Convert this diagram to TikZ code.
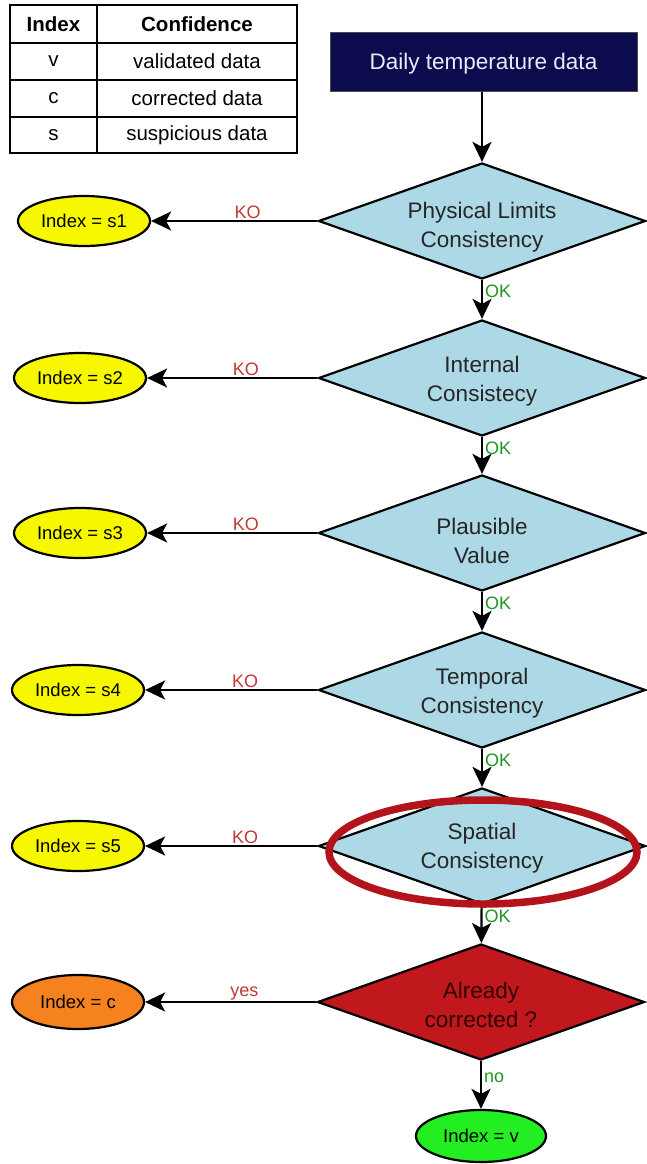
\documentclass[tikz,border=0pt]{standalone}
\usepackage{fontspec}
\setmainfont{Liberation Sans}
\usetikzlibrary{shapes.geometric,arrows.meta}
\definecolor{navy}{HTML}{0B0B4D}
\definecolor{dblue}{HTML}{ADD8E6}
\definecolor{ylw}{HTML}{F7F700}
\definecolor{org}{HTML}{F5821F}
\definecolor{grn}{HTML}{22EE22}
\definecolor{dred}{HTML}{C0181C}
\definecolor{kored}{HTML}{C03838}
\definecolor{okgrn}{HTML}{1E961E}
\definecolor{hlred}{HTML}{B3131A}
\tikzset{
  decision/.style={shape=diamond, draw=black, line width=2.2pt, fill=dblue, aspect=2.8,
    minimum width=327pt, minimum height=116pt, inner sep=0pt},
  dtext/.style={align=center, text=black!85, font=\fontsize{22.5}{29}\selectfont, inner sep=0pt},
  result/.style={shape=ellipse, draw=black, line width=2.2pt, minimum width=132pt,
    minimum height=50pt, inner sep=0pt, font=\fontsize{18.5}{22}\selectfont},
  flow/.style={draw=black, line width=2.2pt, -{Stealth[length=20pt,width=19pt,inset=5pt]}},
  kolab/.style={text=kored, font=\fontsize{18}{20}\selectfont, inner sep=1pt, above},
  oklab/.style={text=okgrn, font=\fontsize{18}{20}\selectfont, inner sep=2pt, right},
  cell/.style={font=\fontsize{20.5}{24}\selectfont, inner sep=0pt},
  hcell/.style={font=\bfseries\fontsize{20.5}{24}\selectfont, inner sep=0pt},
}
\begin{document}
\begin{tikzpicture}[x=1pt,y=-1pt]
\useasboundingbox (0,0) rectangle (647,1164);
% table
\draw[line width=2pt] (10,5) rectangle (297,153);
\draw[line width=1.6pt] (10,43) -- (297,43) (10,80) -- (297,80) (10,117) -- (297,117) (97,5) -- (97,153);
\node[hcell] (h1) at (53.5,24) {Index};
\node[hcell] (h2) at (197,24) {Confidence};
\node[cell] (r1a) at (53.5,61.5) {v};
\node[cell] (r1b) at (197,61.5) {validated data};
\node[cell] (r2a) at (53.5,98.5) {c};
\node[cell] (r2b) at (197,98.5) {corrected data};
\node[cell] (r3a) at (53.5,135) {s};
\node[cell] (r3b) at (197,135) {suspicious data};
% start
\node[draw=black!70, line width=1pt, fill=navy, minimum width=307pt,
  minimum height=58pt] (start) at (483.5,62) {};
\node[text=white!92!blue, font=\fontsize{22.5}{27}\selectfont, inner sep=0pt] (starttext) at (483.5,64) {Daily temperature data};
% decisions
\node[decision] (d1) at (482,221) {};
\node[decision] (d2) at (482,378) {};
\node[decision] (d3) at (482,533) {};
\node[decision] (d4) at (482,690) {};
\node[decision] (d5) at (482,846) {};
\node[decision, fill=dred] (d6) at (481,1002) {};
\node[dtext] (t1) at (482,227) {Physical Limits\\Consistency};
\node[dtext] (t2) at (482,381) {Internal\\Consistecy};
\node[dtext] (t3) at (482,541) {Plausible\\Value};
\node[dtext] (t4) at (482,693) {Temporal\\Consistency};
\node[dtext] (t5) at (482,848) {Spatial\\Consistency};
\node[dtext, text=black!80!red] (t6) at (481,1005) {Already\\corrected ?};
% results
\node[result, fill=ylw] (e1) at (84,221) {Index = s1};
\node[result, fill=ylw] (e2) at (80,378) {Index = s2};
\node[result, fill=ylw] (e3) at (80,533) {Index = s3};
\node[result, fill=ylw] (e4) at (78,690) {Index = s4};
\node[result, fill=ylw] (e5) at (78,846) {Index = s5};
\node[result, fill=org, minimum height=54pt] (ec) at (78,1002) {Index = c};
\node[result, fill=grn, minimum width=130pt, minimum height=52pt] (ev) at (481,1136) {Index = v};
% vertical flow
\draw[flow] (start.south -| d1.north) -- (d1.north);
\draw[flow] (d1) -- node[oklab, pos=0.3] (ok1) {OK} (d2);
\draw[flow] (d2) -- node[oklab, pos=0.3] (ok2) {OK} (d3);
\draw[flow] (d3) -- node[oklab, pos=0.3] (ok3) {OK} (d4);
\draw[flow] (d4) -- node[oklab, pos=0.3] (ok4) {OK} (d5);
\draw[flow] (d5) -- node[oklab, pos=0.3] (ok5) {OK} (d6);
\draw[flow] (d6) -- node[oklab, pos=0.35] (no) {no} (ev);
% KO branches
\draw[flow] (d1.west) -- node[kolab, pos=0.42] (ko1) {KO} (e1.east);
\draw[flow] (d2.west) -- node[kolab, pos=0.42] (ko2) {KO} (e2.east);
\draw[flow] (d3.west) -- node[kolab, pos=0.42] (ko3) {KO} (e3.east);
\draw[flow] (d4.west) -- node[kolab, pos=0.42] (ko4) {KO} (e4.east);
\draw[flow] (d5.west) -- node[kolab, pos=0.42] (ko5) {KO} (e5.east);
\draw[flow] (d6.west) -- node[kolab, pos=0.42] (yes) {yes} (ec.east);
% highlight
\node[shape=ellipse, draw=hlred, line width=7.5pt, minimum width=308pt, minimum height=104pt] (hl) at (483,852) {};
\end{tikzpicture}
\end{document}
